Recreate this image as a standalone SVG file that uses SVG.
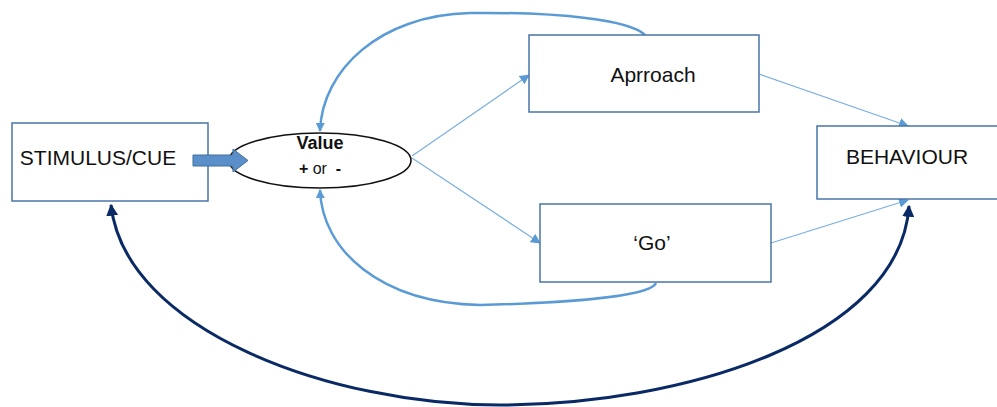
<svg xmlns="http://www.w3.org/2000/svg" width="997" height="407" viewBox="0 0 997 407">
  <style>
    .box { fill: #ffffff; stroke: #4a76a8; stroke-width: 1.5; }
    .label { font-family: "Liberation Sans", Arial, sans-serif; font-size: 21px; fill: #111111; text-anchor: middle; }
    .thin { fill: none; stroke: #7aaee0; stroke-width: 1.2; marker-end: url(#headLight); }
    .loop { fill: none; stroke: #5b9bd5; stroke-width: 2.5; marker-end: url(#headBlue); }
    .feedback { fill: none; stroke: #0a2a66; stroke-width: 3; marker-start: url(#headNavy); marker-end: url(#headNavy); }
  </style>
  <defs>
    <marker id="headLight" viewBox="0 0 10 10" refX="9" refY="5" markerWidth="10" markerHeight="10" markerUnits="userSpaceOnUse" orient="auto">
      <path d="M0,0 L10,5 L0,10 z" fill="#5b9bd5"/>
    </marker>
    <marker id="headBlue" viewBox="0 0 10 10" refX="9" refY="5" markerWidth="9" markerHeight="9" markerUnits="userSpaceOnUse" orient="auto">
      <path d="M0,0 L10,5 L0,10 z" fill="#5b9bd5"/>
    </marker>
    <marker id="headNavy" viewBox="0 0 10 10" refX="9" refY="5" markerWidth="12" markerHeight="12" markerUnits="userSpaceOnUse" orient="auto-start-reverse">
      <path d="M0,0 L10,5 L0,10 z" fill="#0a2a66"/>
    </marker>
  </defs>

  <!-- connectors -->
  <g id="connectors">
    <path class="thin" d="M412,156 L529,75"/>
    <path class="thin" d="M412,158 L540,243"/>
    <path class="thin" d="M759,74 L908,126"/>
    <path class="thin" d="M771,243 L908,200"/>
    <path class="loop" d="M645,35 C630,20 560,12 470,13 C380,15 322,70 320,131"/>
    <path class="loop" d="M656,283 C650,297 560,303 480,305 C380,303 322,250 320,190"/>
    <path class="feedback" d="M111,205 C125,330 330,405 500,405 C680,405 900,340 909,206"/>
  </g>

  <g id="stimulus">
    <rect class="box" x="12" y="123" width="196" height="78"/>
    <text class="label" x="98" y="165">STIMULUS/CUE</text>
  </g>

  <g id="value">
    <ellipse cx="320" cy="160.5" rx="91" ry="27.5" fill="#ffffff" stroke="#111111" stroke-width="1.6"/>
    <text x="320" y="149" font-family="Liberation Sans, Arial, sans-serif" font-size="18" font-weight="bold" text-anchor="middle" fill="#111111">Value</text>
    <text x="320" y="174" font-family="Liberation Sans, Arial, sans-serif" font-size="16" text-anchor="middle" fill="#111111" xml:space="preserve"><tspan font-weight="bold">+</tspan> or  <tspan font-weight="bold">-</tspan></text>
  </g>

  <!-- block arrow from stimulus into value, drawn over both shapes -->
  <g id="stimulus-to-value">
    <path d="M193,155 L233,155 L233,149 L248,160.5 L233,172 L233,166 L193,166 z" fill="#5b8fca" stroke="#41719c" stroke-width="1"/>
  </g>

  <g id="approach">
    <rect class="box" x="529" y="35" width="230" height="77"/>
    <text class="label" x="653" y="82">Aprroach</text>
  </g>

  <g id="go">
    <rect class="box" x="540" y="204" width="231" height="78"/>
    <text class="label" x="652" y="250">‘Go’</text>
  </g>

  <g id="behaviour">
    <rect class="box" x="817" y="126" width="190" height="73"/>
    <text class="label" x="907" y="164">BEHAVIOUR</text>
  </g>
</svg>
